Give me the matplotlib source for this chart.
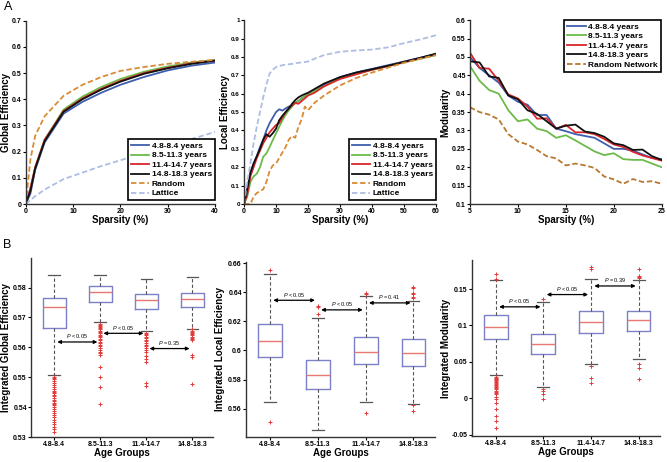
import matplotlib.pyplot as plt
from matplotlib.ticker import FuncFormatter

plt.rcParams['font.family'] = ['Liberation Sans', 'DejaVu Sans']
plt.rcParams['mathtext.fontset'] = 'custom'
plt.rcParams['mathtext.it'] = 'Liberation Sans:italic'
plt.rcParams['mathtext.rm'] = 'Liberation Sans'

# ---- data ----
ages = ['4.8-8.4 years', '8.5-11.3 years', '11.4-14.7 years', '14.8-18.3 years']
age_ticks = ['4.8-8.4', '8.5-11.3', '11.4-14.7', '14.8-18.3']

# global efficiency vs sparsity
ge_x = [0, 1, 2, 4, 8, 12, 16, 20, 25, 30, 35, 40]
ge_blue = [0, 0.04, 0.13, 0.235, 0.345, 0.39, 0.425, 0.455, 0.485, 0.51, 0.528, 0.54]
ge_green = [0, 0.06, 0.14, 0.245, 0.36, 0.41, 0.447, 0.477, 0.505, 0.525, 0.54, 0.55]
ge_red = [0, 0.06, 0.14, 0.245, 0.355, 0.403, 0.44, 0.47, 0.5, 0.52, 0.537, 0.548]
ge_black = [0, 0.05, 0.135, 0.24, 0.352, 0.4, 0.437, 0.467, 0.497, 0.518, 0.535, 0.547]
ge_random = [0, 0.17, 0.26, 0.335, 0.413, 0.455, 0.485, 0.508, 0.523, 0.535, 0.543, 0.55]
ge_lattice = [0, 0.015, 0.03, 0.055, 0.095, 0.12, 0.145, 0.167, 0.195, 0.222, 0.248, 0.275]

# local efficiency vs sparsity
le_x = [0, 1, 2, 3, 4, 5, 6, 7, 8, 9, 10, 11, 12, 13, 14, 15, 16, 17, 18, 19, 20,
        22, 25, 30, 35, 40, 45, 50, 55, 60]
le_blue = [0, 0.07, 0.17, 0.22, 0.26, 0.31, 0.35, 0.40, 0.44, 0.47, 0.50, 0.515, 0.508, 0.52,
           0.53, 0.535, 0.55, 0.56, 0.575, 0.585, 0.6, 0.62, 0.65, 0.69, 0.715, 0.735, 0.755,
           0.775, 0.795, 0.815]
le_green = [0, 0.04, 0.12, 0.15, 0.165, 0.2, 0.257, 0.275, 0.31, 0.348, 0.384, 0.42, 0.455,
            0.485, 0.51, 0.53, 0.55, 0.56, 0.575, 0.588, 0.6, 0.615, 0.64, 0.685, 0.71,
            0.73, 0.75, 0.77, 0.79, 0.81]
le_red = [0, 0.05, 0.15, 0.2, 0.25, 0.29, 0.33, 0.36, 0.39, 0.41, 0.43, 0.44, 0.47, 0.5,
          0.52, 0.535, 0.55, 0.545, 0.56, 0.575, 0.59, 0.605, 0.64, 0.68, 0.705, 0.73, 0.75,
          0.772, 0.793, 0.815]
le_black = [0, 0.08, 0.17, 0.22, 0.26, 0.3, 0.35, 0.38, 0.366, 0.385, 0.41, 0.456, 0.48,
            0.5, 0.52, 0.545, 0.565, 0.58, 0.59, 0.598, 0.605, 0.625, 0.655, 0.69, 0.715,
            0.733, 0.752, 0.773, 0.795, 0.818]
le_random = [0, 0, 0, 0.04, 0.06, 0.07, 0.08, 0.12, 0.18, 0.21, 0.22, 0.25, 0.28, 0.31, 0.35,
             0.37, 0.36, 0.42, 0.46, 0.53, 0.51, 0.55, 0.59, 0.645, 0.685, 0.715, 0.742,
             0.768, 0.79, 0.81]
le_lattice = [0, 0.12, 0.22, 0.33, 0.42, 0.5, 0.58, 0.65, 0.71, 0.73, 0.745, 0.75, 0.755,
              0.758, 0.76, 0.762, 0.765, 0.768, 0.77, 0.772, 0.775, 0.79, 0.81, 0.828, 0.835,
              0.84, 0.852, 0.875, 0.895, 0.918]

# modularity vs sparsity
mod_x = list(range(5, 26))
mod_blue = [0.50, 0.47, 0.45, 0.43, 0.395, 0.378, 0.37, 0.342, 0.342, 0.305, 0.298, 0.29,
            0.285, 0.28, 0.265, 0.25, 0.25, 0.245, 0.235, 0.225, 0.222]
mod_green = [0.475, 0.435, 0.41, 0.4, 0.355, 0.325, 0.33, 0.305, 0.298, 0.28, 0.287, 0.273,
             0.258, 0.243, 0.233, 0.238, 0.222, 0.22, 0.22, 0.21, 0.2]
mod_red = [0.512, 0.47, 0.468, 0.435, 0.398, 0.387, 0.365, 0.332, 0.333, 0.305, 0.315, 0.295,
           0.295, 0.29, 0.277, 0.262, 0.255, 0.242, 0.232, 0.225, 0.218]
mod_black = [0.488, 0.485, 0.447, 0.443, 0.395, 0.385, 0.355, 0.345, 0.325, 0.305, 0.313,
             0.316, 0.297, 0.293, 0.283, 0.265, 0.26, 0.247, 0.248, 0.23, 0.22]
mod_random = [0.363, 0.35, 0.343, 0.33, 0.29, 0.27, 0.262, 0.247, 0.23, 0.224, 0.205, 0.21,
              0.205, 0.198, 0.175, 0.167, 0.155, 0.168, 0.16, 0.162, 0.155]

# box plot summaries: [med, q1, q3, whislo, whishi]
glob_box = [[0.5734, 0.5665, 0.5766, 0.5509, 0.5841],
            [0.5784, 0.5753, 0.5804, 0.5684, 0.5841],
            [0.5758, 0.5730, 0.5780, 0.5654, 0.5828],
            [0.5761, 0.5736, 0.5783, 0.5663, 0.5835]]
glob_fliers = [
    [0.5502, 0.5497, 0.5493, 0.5488, 0.5481, 0.5474, 0.5468, 0.5461, 0.5455, 0.5450, 0.5446,
     0.5441, 0.5436, 0.5430, 0.5424, 0.5419, 0.5414, 0.5412, 0.5408, 0.5401, 0.5395, 0.5388,
     0.5380, 0.5372, 0.5366, 0.5358, 0.5350, 0.5343, 0.5335, 0.5326, 0.5318],
    [0.5679, 0.5676, 0.5672, 0.5668, 0.5664, 0.5660, 0.5655, 0.5651, 0.5647, 0.5643, 0.5638,
     0.5634, 0.5629, 0.5624, 0.5619, 0.5614, 0.5609, 0.5604, 0.5598, 0.5592, 0.5586, 0.5580,
     0.5575, 0.5533, 0.5501, 0.5469, 0.5412],
    [0.5648, 0.5644, 0.5640, 0.5635, 0.5630, 0.5625, 0.5620, 0.5615, 0.5609, 0.5603, 0.5597,
     0.5590, 0.5583, 0.5572, 0.5562, 0.5552, 0.5481, 0.5471],
    [0.5660, 0.5656, 0.5652, 0.5648, 0.5644, 0.5640, 0.5636, 0.5632, 0.5627, 0.5623, 0.5573,
     0.5568, 0.5476]]

loc_box = [[0.6068, 0.5953, 0.6180, 0.5646, 0.6527],
           [0.5829, 0.5738, 0.5935, 0.5453, 0.6222],
           [0.5992, 0.5905, 0.6095, 0.5646, 0.6375],
           [0.5981, 0.5894, 0.6077, 0.5630, 0.6339]]
loc_fliers = [[0.6556, 0.5506],
              [0.6306, 0.6299, 0.6251],
              [0.6398, 0.6389, 0.5568],
              [0.6435, 0.6426, 0.6394, 0.6385, 0.6368, 0.6360, 0.5622, 0.5586]]

mod_box = [[0.0982, 0.0813, 0.1146, 0.0315, 0.1630],
           [0.0749, 0.0603, 0.0886, 0.0160, 0.1324],
           [0.1050, 0.0900, 0.1201, 0.0475, 0.1644],
           [0.1073, 0.0922, 0.1205, 0.0543, 0.1620]]
mod_fliers = [
    [0.1708, 0.1645, 0.0295, 0.0282, 0.0270, 0.0258, 0.0245, 0.0232, 0.0220, 0.0206, 0.0192,
     0.0178, 0.0165, 0.0150, 0.0137, 0.0121, 0.0105, 0.0088, 0.0072, 0.0055, 0.0018, -0.0012,
     -0.0068, -0.0142, -0.0240, -0.0310, -0.0410],
    [0.1370, 0.0132, 0.0100, 0.0064, -0.0005],
    [0.1800, 0.1770, 0.0447, 0.0438, 0.0283, 0.0205],
    [0.1780, 0.1676, 0.1662, 0.1648, 0.0466, 0.0411, 0.0270]]

glob_p = ['P < 0.05', 'P < 0.05', 'P = 0.35']
loc_p = ['P < 0.05', 'P < 0.05', 'P = 0.41']
mod_p = ['P < 0.05', 'P < 0.05', 'P = 0.39']

# ---- style ----
C_BLUE, C_GREEN, C_RED, C_BLACK = '#3f5fae', '#6cbb4a', '#d9262b', '#111111'
C_RAND, C_LAT = '#d98b35', '#aebde3'
TICK = 5
LAB = 7
fmt = FuncFormatter(lambda v, p: '%g' % round(v, 3))

fig = plt.figure(figsize=(6.67, 4.62), dpi=100)


def style(ax):
    for s in ['top', 'right']:
        ax.spines[s].set_visible(False)
    for s in ['left', 'bottom']:
        ax.spines[s].set_color('#333333')
        ax.spines[s].set_linewidth(1.0)
    ax.tick_params(direction='out', length=2, width=0.8, labelsize=TICK, pad=1)
    for lbl in ax.get_xticklabels() + ax.get_yticklabels():
        lbl.set_fontweight('bold')
    ax.yaxis.set_major_formatter(fmt)


def labels(ax, xlabel, ylabel, ylx):
    ax.set_xlabel(xlabel, fontsize=LAB, fontweight='bold', labelpad=0)
    ax.set_ylabel(ylabel, fontsize=LAB, fontweight='bold', va='center')
    ax.yaxis.set_label_coords(ylx, 0.5)


def legend(ax, loc, anchor):
    lg = ax.legend(loc=loc, bbox_to_anchor=anchor, prop={'size': 6, 'weight': 'bold'},
                   fancybox=False, edgecolor='black', framealpha=1, handlelength=2.2,
                   borderpad=0.35, labelspacing=0.2, handletextpad=0.3, borderaxespad=0)
    lg.get_frame().set_linewidth(1.2)


# ---- panel A ----
ax1 = fig.add_axes([0.0385, 0.5584, 0.284, 0.397])
ax1.plot(ge_x, ge_blue, color=C_BLUE, lw=1.3, label=ages[0])
ax1.plot(ge_x, ge_green, color=C_GREEN, lw=1.3, label=ages[1])
ax1.plot(ge_x, ge_red, color=C_RED, lw=1.3, label=ages[2])
ax1.plot(ge_x, ge_black, color=C_BLACK, lw=1.3, label=ages[3])
ax1.plot(ge_x, ge_random, color=C_RAND, lw=1.3, ls=(0, (3, 1.5)), label='Random')
ax1.plot(ge_x, ge_lattice, color=C_LAT, lw=1.3, ls=(0, (3, 1.5)), label='Lattice')
ax1.set_xlim(0, 40)
ax1.set_ylim(0, 0.7)
ax1.set_xticks([0, 10, 20, 30, 40])
ax1.set_yticks([0, 0.1, 0.2, 0.3, 0.4, 0.5, 0.6, 0.7])
style(ax1)
labels(ax1, 'Sparsity (%)', 'Global Efficiency', -0.105)
legend(ax1, 'lower right', (1.0, 0.02))

ax2 = fig.add_axes([0.3658, 0.5584, 0.288, 0.398])
ax2.plot(le_x, le_blue, color=C_BLUE, lw=1.3, label=ages[0])
ax2.plot(le_x, le_green, color=C_GREEN, lw=1.3, label=ages[1])
ax2.plot(le_x, le_red, color=C_RED, lw=1.3, label=ages[2])
ax2.plot(le_x, le_black, color=C_BLACK, lw=1.3, label=ages[3])
ax2.plot(le_x, le_random, color=C_RAND, lw=1.3, ls=(0, (3, 1.5)), label='Random')
ax2.plot(le_x, le_lattice, color=C_LAT, lw=1.3, ls=(0, (3, 1.5)), label='Lattice')
ax2.set_xlim(0, 60)
ax2.set_ylim(0, 1)
ax2.set_xticks([0, 10, 20, 30, 40, 50, 60])
ax2.set_yticks([0, 0.1, 0.2, 0.3, 0.4, 0.5, 0.6, 0.7, 0.8, 0.9, 1])
style(ax2)
ax2.tick_params(axis='y', labelsize=4.5)
labels(ax2, 'Sparsity (%)', 'Local Efficiency', -0.1)
legend(ax2, 'lower right', (1.0, 0.02))

ax3 = fig.add_axes([0.7046, 0.5584, 0.2874, 0.398])
ax3.plot(mod_x, mod_blue, color=C_BLUE, lw=1.3, label=ages[0])
ax3.plot(mod_x, mod_green, color=C_GREEN, lw=1.3, label=ages[1])
ax3.plot(mod_x, mod_red, color=C_RED, lw=1.3, label=ages[2])
ax3.plot(mod_x, mod_black, color=C_BLACK, lw=1.3, label=ages[3])
ax3.plot(mod_x, mod_random, color='#b8782f', lw=1.3, ls=(0, (3, 1.5)), label='Random Network')
ax3.set_xlim(5, 25)
ax3.set_ylim(0.1, 0.6)
ax3.set_xticks([5, 10, 15, 20, 25])
ax3.set_yticks([0.1, 0.15, 0.2, 0.25, 0.3, 0.35, 0.4, 0.45, 0.5, 0.55, 0.6])
style(ax3)
labels(ax3, 'Sparsity (%)', 'Modularity', -0.13)
legend(ax3, 'upper right', (0.995, 1.0))


# ---- panel B ----
def boxpanel(rect, box, fliers, pvals, plevels, ylim, yticks, ylabel):
    ax = fig.add_axes(rect)
    stats = []
    for b, f in zip(box, fliers):
        stats.append(dict(med=b[0], q1=b[1], q3=b[2], whislo=b[3], whishi=b[4], fliers=f))
    ax.bxp(stats, positions=[1, 2, 3, 4], widths=0.5, capwidths=0.25,
           boxprops=dict(color='#7c80c6', lw=1.0),
           medianprops=dict(color='#e8776f', lw=1.0),
           whiskerprops=dict(color='#555555', ls=(0, (3, 2)), lw=0.8),
           capprops=dict(color='#555555', lw=0.9),
           flierprops=dict(marker='+', markeredgecolor='#e23a3a', markersize=3.2,
                           markeredgewidth=0.7, ls='none'))
    for i in range(3):
        y = plevels[i]
        ax.annotate('', xy=(i + 1.94, y), xytext=(i + 1.07, y),
                    arrowprops=dict(arrowstyle='<|-|>', color='black', lw=0.9,
                                    mutation_scale=5, shrinkA=0, shrinkB=0))
        p = pvals[i]
        ax.text(i + 1.5, y + (ylim[1] - ylim[0]) * 0.01, r'$\it{P}$' + p[1:], fontsize=4,
                ha='center', va='bottom')
    ax.set_xlim(0.5, 4.45)
    ax.set_ylim(*ylim)
    ax.set_yticks(yticks)
    ax.set_xticks([1, 2, 3, 4])
    ax.set_xticklabels(age_ticks)
    style(ax)
    labels(ax, 'Age Groups', ylabel, -0.14)
    return ax


boxpanel([0.0465, 0.0541, 0.273, 0.3868], glob_box, glob_fliers, glob_p,
         [0.5618, 0.5647, 0.5596], (0.53, 0.5898),
         [0.53, 0.54, 0.55, 0.56, 0.57, 0.58], 'Integrated Global Efficiency')
boxpanel([0.3688, 0.0541, 0.2834, 0.3794], loc_box, loc_fliers, loc_p,
         [0.6345, 0.6279, 0.6327], (0.5405, 0.661),
         [0.56, 0.58, 0.6, 0.62, 0.64, 0.66], 'Integrated Local Efficiency')
boxpanel([0.7076, 0.0563, 0.2819, 0.3809], mod_box, mod_fliers, mod_p,
         [0.1256, 0.1425, 0.1543], (-0.052, 0.19),
         [-0.05, 0, 0.05, 0.1, 0.15], 'Integrated Modularity')

fig.text(0.006, 0.997, 'A', fontsize=9, va='top')
fig.text(0.005, 0.482, 'B', fontsize=9, va='top')

fig.savefig('out.png', dpi=100)
